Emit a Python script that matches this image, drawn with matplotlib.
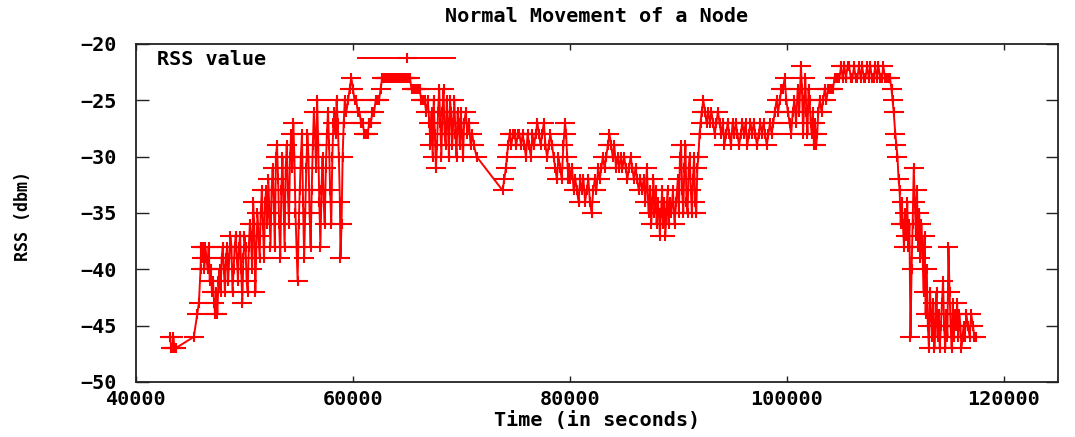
import numpy as np
import matplotlib.pyplot as plt
from matplotlib.path import Path

plt.rcParams['font.family'] = ['DejaVu Sans Mono', 'DejaVu Sans']
plt.rcParams['font.weight'] = 'bold'
plt.rcParams['axes.labelweight'] = 'bold'
plt.rcParams['axes.titleweight'] = 'bold'

# start cluster and the rise (seconds, dBm)
t1 = [43150, 43250, 43350, 43450, 43550, 43650,
      45330, 45650, 45800, 45950, 46000, 46100, 46200, 46300, 46400, 46500,
      46600, 46700, 46800, 46900, 47000, 47100, 47200, 47300, 47400, 47500,
      47600, 47700, 47800, 47900, 48000, 48100, 48200, 48300, 48400, 48500,
      48600, 48700, 48800, 48900, 49000, 49100, 49200, 49300, 49400, 49500,
      49600, 49700, 49800, 49900, 50000, 50100, 50200, 50300, 50400, 50500,
      50600, 50700, 50800, 50900, 51000, 51100, 51200, 51300, 51400, 51500,
      51600, 51700, 51800, 51900, 52000, 52100, 52200, 52300, 52400, 52500,
      52600, 52700, 52800, 52900, 53000, 53100, 53200, 53300, 53400, 53500,
      53600, 53700, 53800, 53900, 54000, 54100, 54200, 54300, 54400, 54500,
      54600, 54700, 54800, 54900, 55000, 55100, 55200, 55300, 55400, 55500,
      55600, 55700, 55800, 55900, 56000, 56100, 56200, 56300, 56400, 56500,
      56600, 56700, 56800, 56900, 57000, 57100, 57200, 57300, 57400, 57500,
      57600, 57700, 57800, 57900, 58000, 58100, 58200, 58300, 58400, 58500,
      58600, 58700, 58800, 58850, 58950, 59050, 59150, 59250]
v1 = [-46, -47, -47, -46, -47, -47,
      -46, -44, -43, -40, -38, -39, -38, -40, -38, -39,
      -40, -38, -41, -40, -42, -41, -43, -44, -42, -44,
      -41, -40, -42, -39, -38, -40, -42, -39, -38, -41,
      -39, -37, -38, -42, -40, -38, -37, -39, -41, -38,
      -37, -40, -43, -39, -37, -38, -41, -42, -38, -36,
      -37, -40, -34, -36, -42, -38, -35, -37, -39, -35,
      -33, -36, -39, -34, -33, -36, -32, -35, -38, -33,
      -31, -34, -38, -30, -29, -32, -36, -39, -33, -30,
      -34, -38, -31, -29, -33, -36, -30, -28, -31, -27,
      -30, -35, -38, -41, -36, -33, -30, -28, -34, -39,
      -35, -31, -28, -30, -35, -38, -33, -29, -26, -28,
      -31, -25, -29, -34, -38, -33, -30, -34, -36, -31,
      -28, -26, -29, -33, -36, -30, -27, -26, -28, -25,
      -27, -30, -34, -39, -36, -30, -27, -25]

# first peak and the -23 plateau
t2 = [59400, 59550, 59700, 59850, 60000, 60150, 60300, 60450, 60600, 60750,
      60900, 61050, 61200, 61350, 61500, 61650, 61800, 61950, 62100, 62250,
      62400, 62550, 62700, 62850, 63000, 63150, 63300, 63450, 63600, 63750,
      63900, 64050, 64200, 64350, 64500, 64650, 64800, 64950, 65100, 65250,
      65400, 65550, 65700, 65850, 66000, 66150, 66300, 66450, 66600, 66750,
      66900, 67050, 67150, 67250, 67350, 67450, 67550, 67650, 67750, 67850,
      67950, 68050, 68150, 68250, 68350, 68450, 68550, 68650, 68750, 68850,
      68950, 69050, 69150, 69250, 69350, 69450, 69550, 69650, 69750, 69850,
      69950, 70050, 70150, 70250, 70400, 70550, 70700, 70850, 71000, 71150,
      71400]
v2 = [-26, -25, -24, -23, -24, -25, -25, -26, -26, -27,
      -27, -28, -28, -28, -27, -27, -26, -26, -25, -25,
      -25, -24, -23, -23, -23, -23, -23, -23, -23, -23,
      -23, -23, -23, -23, -23, -23, -23, -23, -23, -23,
      -24, -24, -24, -24, -24, -24, -25, -25, -25, -26,
      -25, -27, -29, -26, -30, -25, -28, -31, -29, -26,
      -24, -27, -30, -26, -24, -28, -29, -25, -27, -30,
      -25, -26, -29, -27, -25, -28, -30, -26, -27, -29,
      -26, -28, -30, -27, -26, -28, -27, -29, -28, -29,
      -30]

# middle section
t3 = [73800, 73950, 74100, 74200, 74300, 74450, 74600, 74750, 74900, 75050,
      75200, 75350, 75500, 75650, 75800, 75950, 76100, 76250, 76400, 76550,
      76700, 76850, 77000, 77150, 77300, 77450, 77600, 77750, 77900, 78050,
      78200, 78350, 78500, 78650, 78800, 78950, 79100, 79250, 79400, 79550,
      79650, 79750, 79850, 79950, 80050, 80200, 80350, 80500, 80650, 80800,
      80950, 81100, 81250, 81400, 81550, 81700, 81850, 82000, 82150, 82300,
      82450, 82600, 82750, 82900, 83050, 83200, 83350, 83500, 83650, 83800,
      83950, 84100, 84250, 84400, 84550, 84700, 84850, 85000, 85150, 85300,
      85450, 85600, 85750, 85900, 86050, 86200, 86350, 86500, 86650, 86800,
      86950, 87100, 87250, 87400, 87500, 87600, 87700, 87800, 87900, 88000,
      88100, 88200, 88300, 88400, 88500, 88600, 88700, 88800, 88900, 89000,
      89100, 89200, 89350, 89500, 89650, 89800, 89950, 90050, 90150, 90250,
      90350, 90450, 90550, 90650, 90750, 90850, 90950, 91050, 91150, 91250,
      91350, 91450, 91550, 91650, 91750, 91850, 91950, 92050, 92150, 92300,
      92450, 92600, 92750, 92900, 93050, 93200, 93350, 93500, 93650]
v3 = [-33, -32, -31, -30, -29, -28, -29, -28, -28, -29,
      -28, -28, -29, -28, -29, -30, -28, -29, -30, -28,
      -29, -28, -27, -28, -29, -28, -27, -29, -30, -29,
      -28, -29, -30, -31, -32, -30, -31, -32, -29, -27,
      -28, -30, -32, -31, -32, -31, -33, -32, -33, -34,
      -32, -33, -32, -34, -33, -32, -34, -35, -33, -32,
      -33, -31, -32, -31, -30, -31, -30, -29, -28, -29,
      -30, -29, -31, -30, -31, -30, -31, -30, -31, -32,
      -31, -30, -31, -32, -31, -32, -33, -32, -33, -32,
      -34, -31, -35, -33, -36, -34, -32, -35, -33, -36,
      -34, -35, -37, -35, -33, -36, -34, -37, -35, -33,
      -36, -34, -35, -33, -36, -34, -32, -35, -30, -29,
      -33, -35, -31, -29, -34, -35, -31, -30, -33, -35,
      -32, -30, -34, -35, -31, -30, -28, -27, -26, -25,
      -26, -27, -26, -27, -26, -27, -28, -27, -26]

# -27/-28 plateau, peaks and the -22 top
t4 = [93800, 93950, 94100, 94250, 94400, 94550, 94700, 94850, 95000, 95150,
      95300, 95450, 95600, 95750, 95900, 96050, 96200, 96350, 96500, 96650,
      96800, 96950, 97100, 97250, 97400, 97550, 97700, 97850, 98000, 98150,
      98300, 98450, 98600, 98750, 98900, 99050, 99200, 99350, 99500, 99650,
      99800, 99950, 100100, 100250, 100400, 100550, 100700, 100850, 101000, 101150,
      101300, 101400, 101500, 101600, 101700, 101800, 101900, 102000, 102100, 102200,
      102300, 102400, 102500, 102600, 102700, 102800, 102900, 103050, 103200, 103350,
      103500, 103650, 103800, 103950, 104100, 104250, 104400, 104550, 104700, 104850,
      105000, 105150, 105300, 105450, 105600, 105750, 105900, 106050, 106200, 106350,
      106500, 106650, 106800, 106950, 107100, 107250, 107400, 107550, 107700, 107850,
      108000, 108150, 108300, 108450, 108600, 108750, 108900, 109050, 109200, 109350,
      109500]
v4 = [-27, -28, -27, -29, -28, -27, -28, -29, -27, -28,
      -27, -28, -29, -28, -27, -28, -27, -29, -28, -27,
      -28, -27, -28, -29, -28, -27, -28, -27, -28, -29,
      -28, -27, -28, -27, -26, -25, -26, -25, -24, -24,
      -23, -25, -26, -27, -28, -26, -25, -27, -24, -26,
      -22, -24, -28, -25, -23, -26, -28, -24, -25, -27,
      -28, -26, -29, -27, -29, -28, -26, -25, -26, -25,
      -24, -25, -24, -24, -24, -24, -23, -23, -23, -23,
      -22, -23, -22, -23, -22, -22, -23, -23, -22, -23,
      -23, -22, -23, -22, -23, -23, -22, -23, -22, -23,
      -23, -22, -23, -22, -23, -23, -22, -23, -23, -23,
      -23]

# drop at the end
t5 = [109650, 109750, 109850, 110000, 110100, 110200, 110300, 110400, 110500, 110600,
      110700, 110800, 110900, 111000, 111100, 111200, 111300, 111400, 111500, 111600,
      111700, 111800, 111900, 112000, 112100, 112200, 112300, 112400, 112500, 112600,
      112700, 112800, 112900, 113000, 113100, 113200, 113300, 113400, 113500, 113600,
      113700, 113800, 113900, 114000, 114100, 114200, 114300, 114400, 114500, 114600,
      114700, 114800, 114900, 115000, 115100, 115200, 115300, 115400, 115500, 115600,
      115700, 115800, 115900, 116000, 116100, 116200, 116300, 116400, 116550, 116700,
      116850, 117000, 117150, 117300, 117450]
v5 = [-24, -25, -26, -28, -29, -30, -32, -33, -36, -34,
      -36, -38, -35, -37, -34, -38, -36, -46, -40, -36,
      -31, -34, -37, -33, -38, -35, -39, -36, -38, -42,
      -37, -44, -40, -45, -47, -42, -44, -46, -43, -47,
      -45, -42, -46, -44, -47, -45, -43, -41, -45, -47,
      -44, -46, -38, -42, -45, -47, -43, -46, -44, -45,
      -43, -46, -44, -45, -47, -46, -45, -46, -44, -45,
      -46, -44, -45, -46, -46]

x_ticks = [40000, 60000, 80000, 100000, 120000]
y_ticks = [-50, -45, -40, -35, -30, -25, -20]

time = np.concatenate([t1, t2, t3, t4, t5])
rss = np.concatenate([v1, v2, v3, v4, v5])

# gnuplot style "+" that is wider than tall
plus = Path([(-1, 0), (1, 0), (0, -0.5), (0, 0.5)],
            [Path.MOVETO, Path.LINETO, Path.MOVETO, Path.LINETO])

fig = plt.figure(figsize=(10.75, 4.37), dpi=100)
ax = fig.add_axes([0.1265, 0.1259, 0.8577, 0.7735])

ax.plot(time, rss, color='#ff0000', lw=1.4, marker=plus, ms=14, mew=1.5,
        label='RSS value')

ax.set_xlim(40000, 125000)
ax.set_ylim(-50, -20)
ax.set_xticks(x_ticks)
ax.set_yticks(y_ticks)
ax.tick_params(direction='in', top=True, right=True, labelsize=14.5,
               width=1, color='#222222')
ax.tick_params(axis='x', length=4, pad=6)
ax.tick_params(axis='y', length=9, pad=14)
for s in ax.spines.values():
    s.set_linewidth(1.3)
    s.set_color('#222222')

ax.set_title('Normal Movement of a Node', fontsize=14.5, pad=16)
ax.set_xlabel('Time (in seconds)', fontsize=14.5, labelpad=1)
ax.set_ylabel('RSS (dbm)', fontsize=12)
ax.yaxis.set_label_coords(-0.113, 0.49)

ax.legend(loc='upper left', bbox_to_anchor=(0.018, 0.995), frameon=False,
          markerfirst=False, handlelength=4.8, handletextpad=4.6,
          fontsize=14.5, borderaxespad=0, borderpad=0.2)

fig.savefig('out.png', dpi=100)
